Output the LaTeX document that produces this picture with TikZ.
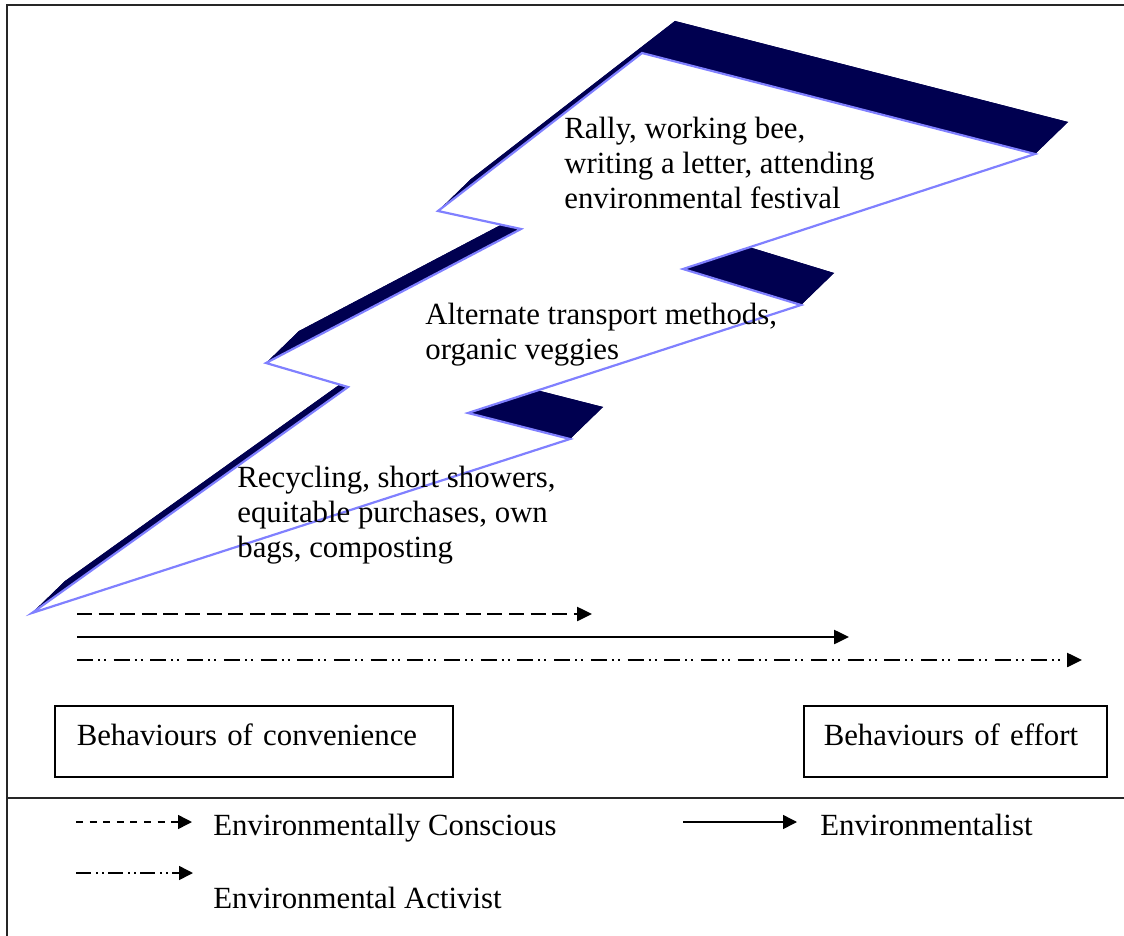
\documentclass[tikz,border=0pt]{standalone}
\usepackage{fontspec}
\setmainfont{Liberation Serif}
\usetikzlibrary{arrows.meta}

\definecolor{boltnavy}{RGB}{0,0,80}
\definecolor{boltedge}{RGB}{128,128,255}

\begin{document}
\begin{tikzpicture}[x=0.5pt, y=-0.5pt,
	every node/.style={inner sep=0pt, font=\fontsize{15.4}{17.5}\selectfont},
	boltside/.style={fill=boltnavy},
	boltface/.style={fill=white, draw=boltedge, line width=1.1pt},
	bolttext/.style={anchor=north west, align=left},
	behaviourbox/.style={draw, line width=0.75pt, anchor=base west, inner ysep=0pt, text height=19.5pt, text depth=16pt},
	keytext/.style={anchor=base west},
	frameline/.style={line width=1pt, draw=black!85},
	trend/.style={-{Triangle[length=7.5pt,width=7pt]}, line width=1.25pt},
	conscious/.style={trend, dash pattern=on 7.5pt off 3.3pt},
	environmentalist/.style={trend},
	activist/.style={trend, dash pattern=on 8pt off 2.5pt on 1pt off 2pt on 1pt off 3.85pt},
	keyline/.style={-{Triangle[length=7pt,width=7pt]}, line width=0.75pt},
]
	\useasboundingbox (0,0) rectangle (1124,936);

	% outer frame and the key panel
	\draw[frameline] (7,936) -- (7,5) -- (1124,5);
	\draw[frameline] (7,798) -- (1124,798);

	% the bolt: front face points, back face shifted up and right
	\foreach \n/\x/\y in {1/32/613, 2/348/387, 3/266/363, 4/521/229, 5/438/211, 6/642/53,
		7/1035/154, 8/683/269, 9/801/305, 10/468/413, 11/570/439} {
		\coordinate (f\n) at (\x,\y);
		\coordinate (b\n) at (\x+33,\y-32);
	}
	\fill[boltside] (b1) \foreach \n in {2,...,11} { -- (b\n) } -- cycle;
	\foreach \n [remember=\n as \m (initially 11)] in {1,...,11}
		\fill[boltside] (f\m) -- (f\n) -- (b\n) -- (b\m) -- cycle;
	\filldraw[boltface] (f1) \foreach \n in {2,...,11} { -- (f\n) } -- cycle;

	\node[bolttext] (rally) at (564,117) {Rally, working bee,\\writing a letter, attending\\environmental festival};
	\node[bolttext] (transport) at (425,303) {Alternate transport methods,\\organic veggies};
	\node[bolttext] (recycling) at (237,466) {Recycling, short showers,\\equitable purchases, own\\bags, composting};

	% how far each group goes
	\coordinate (consciousA) at (77,614);
	\coordinate (consciousB) at (592,614);
	\coordinate (environmentalistA) at (77,637);
	\coordinate (environmentalistB) at (849,637);
	\coordinate (activistA) at (77,660);
	\coordinate (activistB) at (1082,660);
	\draw[conscious] (consciousA) -- (consciousB);
	\draw[environmentalist] (environmentalistA) -- (environmentalistB);
	\draw[activist] (activistA) -- (activistB);

	\node[behaviourbox, inner xsep=11pt, text width=177pt] (convenience) at (54,745) {Behaviours of convenience};
	\node[behaviourbox, inner xsep=10pt, text width=131.5pt] (effort) at (803,745) {Behaviours of effort};

	% key
	\coordinate (keyconsciousA) at (76,822);
	\coordinate (keyconsciousB) at (192,822);
	\coordinate (keyenvironmentalistA) at (683,822);
	\coordinate (keyenvironmentalistB) at (797,822);
	\coordinate (keyactivistA) at (76,873);
	\coordinate (keyactivistB) at (193,873);
	\draw[keyline, dash pattern=on 3.5pt off 3.3pt] (keyconsciousA) -- (keyconsciousB);
	\draw[keyline] (keyenvironmentalistA) -- (keyenvironmentalistB);
	\draw[keyline, dash pattern=on 7.5pt off 2.5pt on 1pt off 2pt on 1pt off 2pt] (keyactivistA) -- (keyactivistB);
	\node[keytext] (consciouskey) at (213,835) {Environmentally Conscious};
	\node[keytext] (environmentalistkey) at (820,835) {Environmentalist};
	\node[keytext] (activistkey) at (213,908) {Environmental Activist};
\end{tikzpicture}
\end{document}
